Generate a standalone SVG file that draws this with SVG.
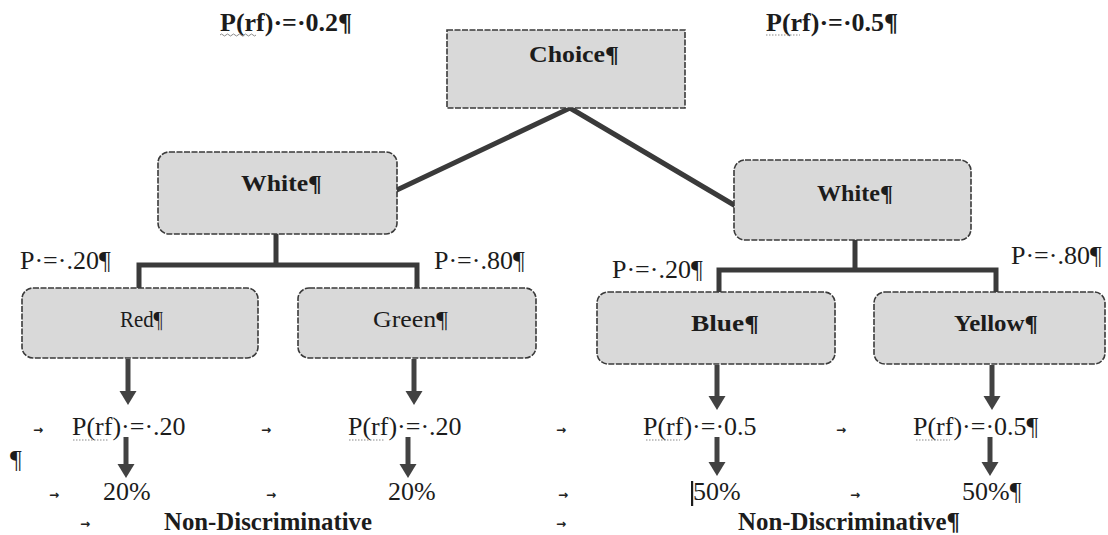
<svg xmlns="http://www.w3.org/2000/svg" width="1108" height="535" viewBox="0 0 1108 535">
<style>
.box{fill:#d9d9d9;stroke:#3a3a3a;stroke-width:1.6;stroke-dasharray:6 1.5;}
.conn{stroke:#3a3a3a;stroke-width:5;fill:none;stroke-linecap:square;}
.arr{stroke:#424242;stroke-width:5;fill:none;marker-end:url(#ah);}
.t{font-family:"Liberation Serif","Times New Roman",serif;fill:#1c1c1c;}
.b{font-weight:bold;}
.lbl{font-size:26px;}
.bx{font-size:24px;}
.tab{font-family:"DejaVu Sans",sans-serif;font-size:12px;font-weight:bold;fill:#222;}
.sp{fill:none;stroke:#8a8a8a;stroke-width:1;}
</style>
<defs>
<marker id="ah" markerUnits="userSpaceOnUse" markerWidth="18" markerHeight="18" refX="0" refY="8.5" orient="auto">
<path d="M0,0 L14,8.5 L0,17 z" fill="#424242"/>
</marker>
</defs>

<!-- top labels -->
<text class="t b lbl" x="220" y="31">P(rf)·=·0.2¶</text>
<text class="t b lbl" x="766" y="31">P(rf)·=·0.5¶</text>

<g id="connectors">
<line class="conn" x1="570" y1="108" x2="397" y2="190"/>
<line class="conn" x1="570" y1="108" x2="734" y2="205"/>
<path class="conn" d="M276,234 V265 M139,265 H417 M139,265 V288 M417,265 V288"/>
<path class="conn" d="M855,240 V270 M719,270 H996 M719,270 V292 M996,270 V292"/>
<line class="arr" x1="128" y1="359" x2="128" y2="391"/>
<line class="arr" x1="414" y1="359" x2="414" y2="391"/>
<line class="arr" x1="717" y1="365" x2="717" y2="396"/>
<line class="arr" x1="992" y1="365" x2="992" y2="396"/>
<line class="arr" x1="126" y1="437" x2="126" y2="464"/>
<line class="arr" x1="408" y1="437" x2="408" y2="464"/>
<line class="arr" x1="717" y1="437" x2="717" y2="462"/>
<line class="arr" x1="990" y1="437" x2="990" y2="462"/>
</g>

<g id="choice">
<rect class="box" x="447" y="30" width="238" height="78"/>
<text class="t b bx" x="529" y="62" textLength="90" lengthAdjust="spacingAndGlyphs">Choice¶</text>
</g>
<g id="white-left">
<rect class="box" x="158" y="152" width="239" height="82" rx="11"/>
<text class="t b bx" x="241" y="191" textLength="81" lengthAdjust="spacingAndGlyphs">White¶</text>
</g>
<g id="white-right">
<rect class="box" x="734" y="160" width="237" height="80" rx="11"/>
<text class="t b bx" x="817" y="201" textLength="76" lengthAdjust="spacingAndGlyphs">White¶</text>
</g>
<g id="red">
<rect class="box" x="22" y="288" width="236" height="70" rx="11"/>
<text class="t bx" x="120" y="327" textLength="43" lengthAdjust="spacingAndGlyphs">Red¶</text>
</g>
<g id="green">
<rect class="box" x="298" y="288" width="238" height="70" rx="11"/>
<text class="t bx" x="373" y="327" textLength="75" lengthAdjust="spacingAndGlyphs">Green¶</text>
</g>
<g id="blue">
<rect class="box" x="597" y="292" width="238" height="72" rx="11"/>
<text class="t b bx" x="691" y="331" textLength="68" lengthAdjust="spacingAndGlyphs">Blue¶</text>
</g>
<g id="yellow">
<rect class="box" x="874" y="292" width="231" height="72" rx="11"/>
<text class="t b bx" x="954" y="331" textLength="84" lengthAdjust="spacingAndGlyphs">Yellow¶</text>
</g>

<!-- probability labels -->
<text class="t lbl" x="20" y="269">P·=·.20¶</text>
<text class="t lbl" x="434" y="269">P·=·.80¶</text>
<text class="t lbl" x="612" y="278">P·=·.20¶</text>
<text class="t lbl" x="1011" y="264">P·=·.80¶</text>

<!-- results -->
<text class="t lbl" x="72" y="435">P(rf)·=·.20</text>
<text class="t lbl" x="348" y="435">P(rf)·=·.20</text>
<text class="t lbl" x="643" y="435">P(rf)·=·0.5</text>
<text class="t lbl" x="913" y="435">P(rf)·=·0.5¶</text>
<text class="t lbl" x="10" y="468" font-size="28">¶</text>
<text class="t lbl" x="103" y="500">20%</text>
<text class="t lbl" x="388" y="500">20%</text>
<rect x="691" y="481" width="2.2" height="25" fill="#1c1c1c"/>
<text class="t lbl" x="693" y="500">50%</text>
<text class="t lbl" x="962" y="500">50%¶</text>
<text class="t b lbl" x="164" y="530" textLength="208" lengthAdjust="spacingAndGlyphs">Non-Discriminative</text>
<text class="t b lbl" x="738" y="530" textLength="222" lengthAdjust="spacingAndGlyphs">Non-Discriminative¶</text>

<!-- tab marks -->
<g class="tab">
<text x="33" y="434">→</text>
<text x="261" y="434">→</text>
<text x="556" y="434">→</text>
<text x="836" y="434">→</text>
<text x="49" y="499">→</text>
<text x="266" y="499">→</text>
<text x="558" y="499">→</text>
<text x="850" y="499">→</text>
<text x="80" y="528">→</text>
<text x="556" y="528">→</text>
</g>

<!-- spell-check underlines -->
<g class="sp">
<path d="M220,35 q1.5,-2 3,0 t3,0 t3,0 t3,0 t3,0 t3,0 t3,0 t3,0 t3,0 t3,0 t3,0 t3,0"/>
<path d="M766,35 h34" stroke-dasharray="1.5 1.5"/>
<path d="M73,440 h36" stroke-dasharray="1.5 1.5"/>
<path d="M349,440 h36" stroke-dasharray="1.5 1.5"/>
<path d="M646,440 h34" stroke-dasharray="1.5 1.5"/>
<path d="M916,440 h34" stroke-dasharray="1.5 1.5"/>
</g>
</svg>
